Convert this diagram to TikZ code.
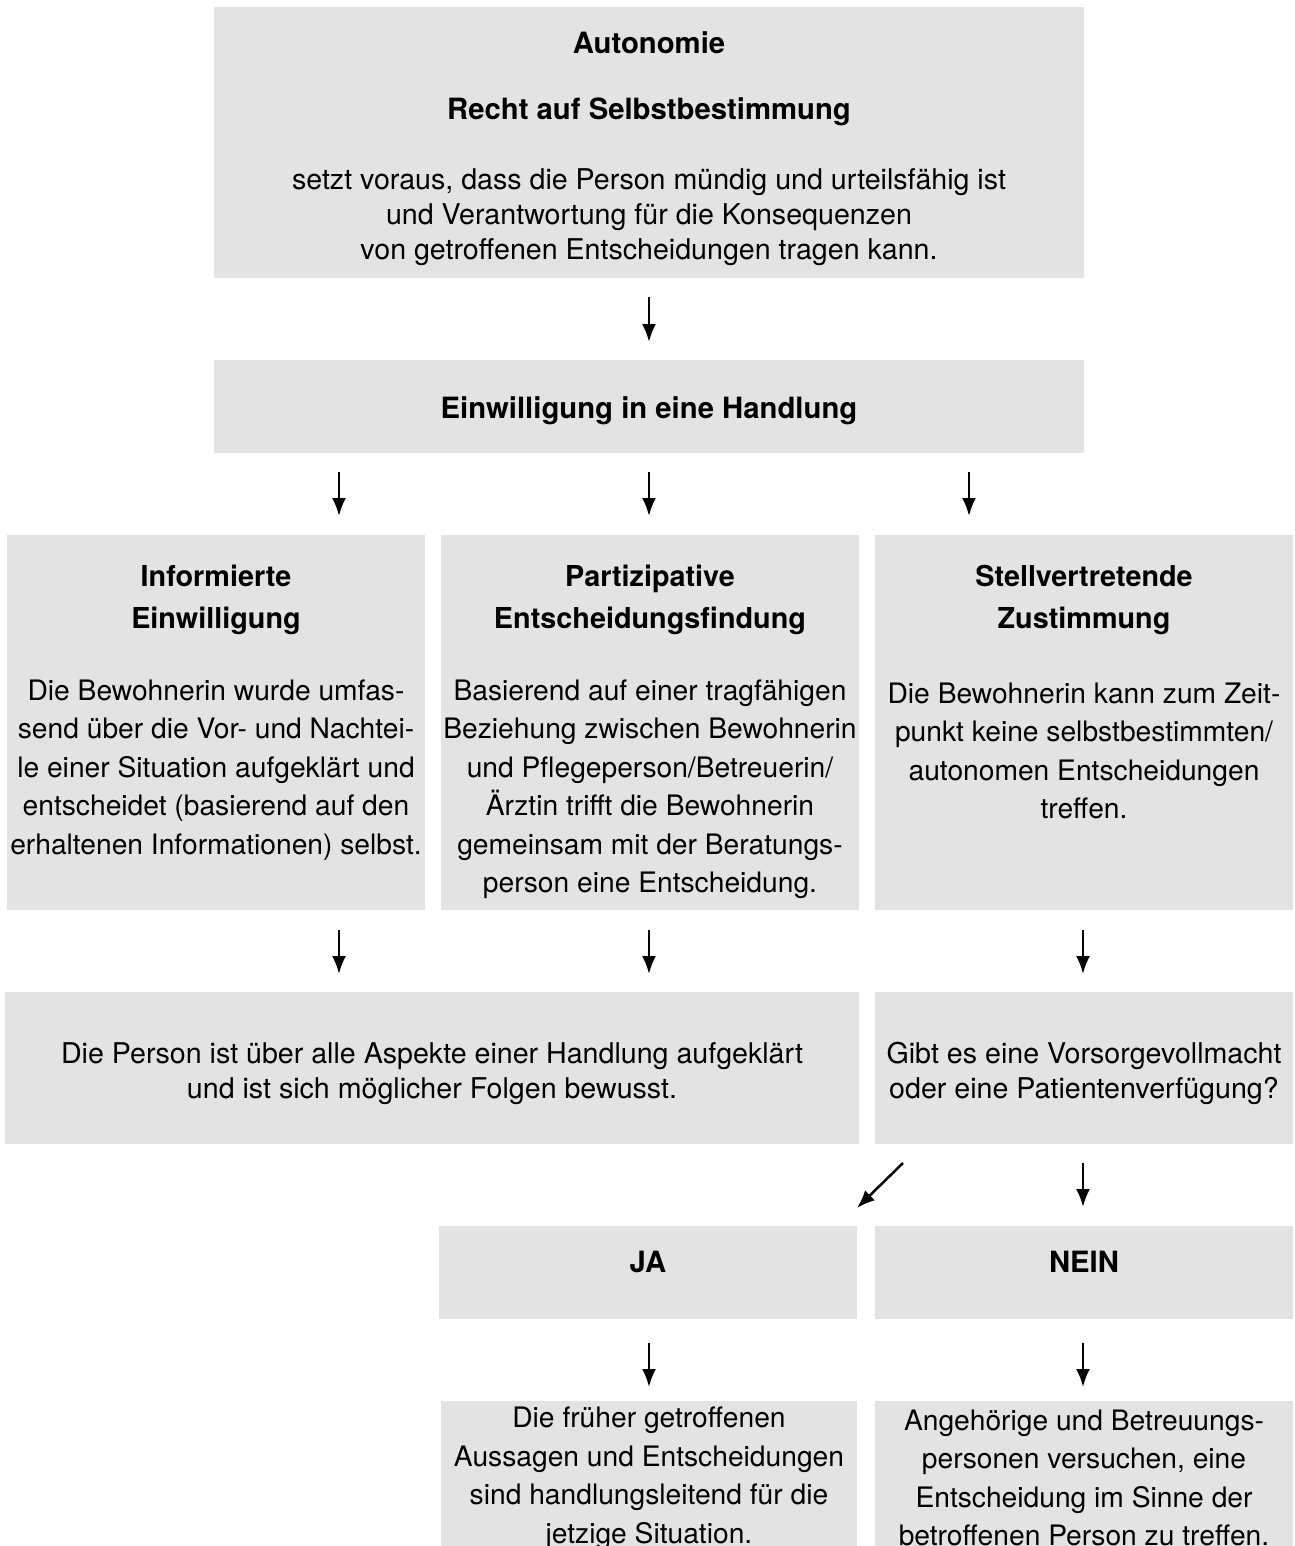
\documentclass[tikz,border=0pt]{standalone}
\usepackage{fontspec}
\setmainfont{TeX Gyre Heros}
\usetikzlibrary{arrows.meta}
\definecolor{boxgray}{RGB}{227,227,227}
\tikzset{
  gbox/.style={fill=boxgray, draw=none, inner sep=0pt, outer sep=0pt},
  txt/.style={align=center, inner sep=0pt, font=\fontsize{28.6}{35}\selectfont},
  txtb/.style={align=center, inner sep=0pt, font=\fontsize{29.3}{35}\selectfont\bfseries},
  txtw/.style={align=center, inner sep=0pt, font=\fontsize{28.2}{38.5}\selectfont},
  txth/.style={align=center, inner sep=0pt, font=\fontsize{28.8}{42}\selectfont\bfseries},
  arr/.style={line width=2.5pt, -{Latex[length=18pt,width=14pt]}}
}
\begin{document}
\begin{tikzpicture}[x=1pt,y=-1pt]
\useasboundingbox (0,0) rectangle (1294,1546);
% boxes
\node[gbox, minimum width=870pt, minimum height=271pt] (top) at (649,142.5) {};
\node[gbox, minimum width=870pt, minimum height=93pt] (einw) at (649,406.5) {};
\node[gbox, minimum width=418pt, minimum height=375pt] (inf) at (216,722.5) {};
\node[gbox, minimum width=418pt, minimum height=375pt] (part) at (650,722.5) {};
\node[gbox, minimum width=418pt, minimum height=375pt] (stell) at (1084,722.5) {};
\node[gbox, minimum width=854pt, minimum height=152pt] (pers) at (432,1068) {};
\node[gbox, minimum width=418pt, minimum height=152pt] (gibt) at (1084,1068) {};
\node[gbox, minimum width=418pt, minimum height=93pt] (ja) at (648,1272.5) {};
\node[gbox, minimum width=418pt, minimum height=93pt] (nein) at (1084,1272.5) {};
\node[gbox, minimum width=416pt, minimum height=145pt] (jatxt) at (649,1473.5) {};
\node[gbox, minimum width=418pt, minimum height=145pt] (neintxt) at (1084,1473.5) {};
% texts
\node[txtb] (t1) at (649,43) {Autonomie};
\node[txtb] (t2) at (649,112) {Recht auf Selbstbestimmung};
\node[txt] (t3) at (649,217.5) {setzt voraus, dass die Person mündig und urteilsfähig ist\\und Verantwortung für die Konsequenzen\\von getroffenen Entscheidungen tragen kann.};
\node[txtb] (t4) at (649,411) {Einwilligung in eine Handlung};
\node[txth] (h1) at (216,600) {Informierte\\Einwilligung};
\node[txth] (h2) at (650,600) {Partizipative\\Entscheidungsfindung};
\node[txth] (h3) at (1084,600) {Stellvertretende\\Zustimmung};
\node[txtw] (b1) at (216,770) {Die Bewohnerin wurde umfas-\\send über die Vor- und Nachtei-\\le einer Situation aufgeklärt und\\entscheidet (basierend auf den\\erhaltenen Informationen) selbst.};
\node[txtw] (b2) at (650,789) {Basierend auf einer tragfähigen\\Beziehung zwischen Bewohnerin\\und Pflegeperson/Betreuerin/\\Ärztin trifft die Bewohnerin\\gemeinsam mit der Beratungs-\\person eine Entscheidung.};
\node[txtw] (b3) at (1084,751) {Die Bewohnerin kann zum Zeit-\\punkt keine selbstbestimmten/\\autonomen Entscheidungen\\treffen.};
\node[txt] (p1) at (432,1073.5) {Die Person ist über alle Aspekte einer Handlung aufgeklärt\\und ist sich möglicher Folgen bewusst.};
\node[txt] (g1) at (1084,1073.5) {Gibt es eine Vorsorgevollmacht\\oder eine Patientenverfügung?};
\node[txtb] (j1) at (648,1262) {JA};
\node[txtb] (n1) at (1084,1262) {NEIN};
\node[txtw] (j2) at (649,1478) {Die früher getroffenen\\Aussagen und Entscheidungen\\sind handlungsleitend für die\\jetzige Situation.};
\node[txtw] (n2) at (1084,1478) {Angehörige und Betreuungs-\\personen versuchen, eine\\Entscheidung im Sinne der\\betroffenen Person zu treffen.};
% arrow end points
\coordinate (a1s) at (649,297);  \coordinate (a1e) at (649,342);
\coordinate (a2s) at (339,472);  \coordinate (a2e) at (339,516);
\coordinate (a3s) at (649,472);  \coordinate (a3e) at (649,516);
\coordinate (a4s) at (969,472);  \coordinate (a4e) at (969,516);
\coordinate (a5s) at (339,930);  \coordinate (a5e) at (339,974);
\coordinate (a6s) at (649,930);  \coordinate (a6e) at (649,974);
\coordinate (a7s) at (1083,930); \coordinate (a7e) at (1083,974);
\coordinate (a8s) at (903,1163); \coordinate (a8e) at (857,1208);
\coordinate (a9s) at (1083,1163); \coordinate (a9e) at (1083,1207);
\coordinate (a10s) at (649,1343); \coordinate (a10e) at (649,1387);
\coordinate (a11s) at (1083,1343); \coordinate (a11e) at (1083,1387);
% arrows
\draw[arr] (a1s) -- (a1e);
\draw[arr] (a2s) -- (a2e);
\draw[arr] (a3s) -- (a3e);
\draw[arr] (a4s) -- (a4e);
\draw[arr] (a5s) -- (a5e);
\draw[arr] (a6s) -- (a6e);
\draw[arr] (a7s) -- (a7e);
\draw[arr] (a8s) -- (a8e);
\draw[arr] (a9s) -- (a9e);
\draw[arr] (a10s) -- (a10e);
\draw[arr] (a11s) -- (a11e);
\end{tikzpicture}
\end{document}
